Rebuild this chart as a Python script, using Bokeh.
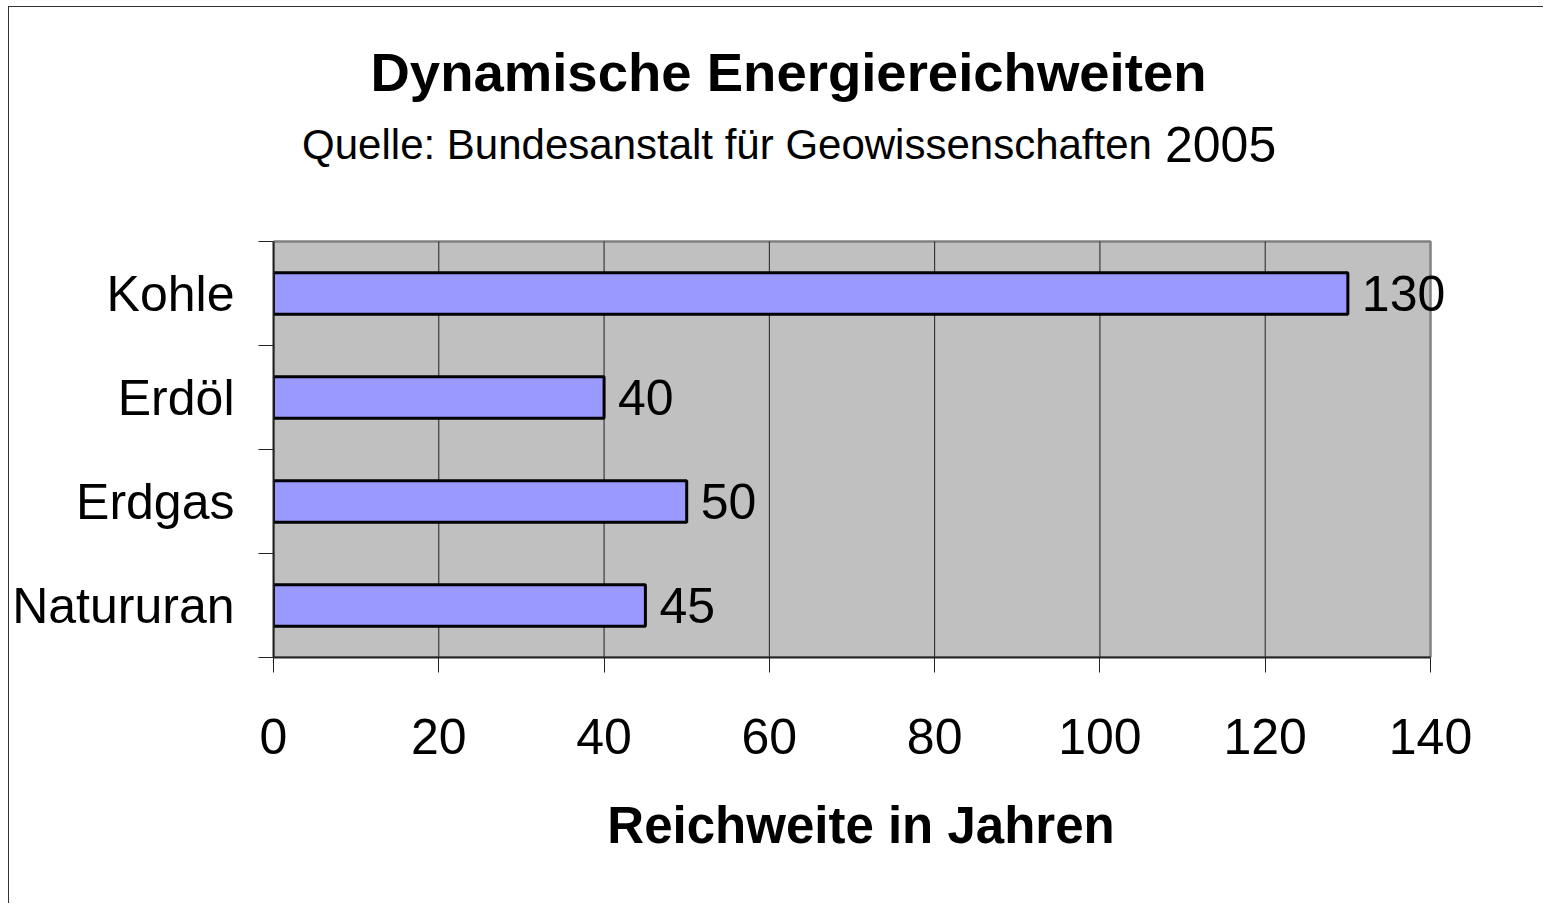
from bokeh.plotting import figure
from bokeh.models import (ColumnDataSource, Range1d, LinearAxis, FixedTicker, LabelSet, Label)
from bokeh.core.properties import value
from bokeh.embed import file_html
from bokeh.resources import INLINE

# ---- data ----
categories = ["Kohle", "Erdöl", "Erdgas", "Natururan"]
values = [130, 40, 50, 45]
x_ticks = [0, 20, 40, 60, 80, 100, 120, 140]
title_text = "Dynamische Energiereichweiten"
subtitle_text = "Quelle: Bundesanstalt für Geowissenschaften"
subtitle_year = "2005"
x_label = "Reichweite in Jahren"

FONT = "Liberation Sans"

# ---- layout (pixels) ----
PLOT_W, PLOT_H = 1157, 416          # grey plot area
FRAME_W, FRAME_H = 1175, 650        # frame extends up (titles) and a little right (value label)
LEFT, RIGHT, BOTTOM = 264, 95, 246

n = len(categories)
ypos = [n - 0.5 - i for i in range(n)]
source = ColumnDataSource(dict(y=ypos, val=values, txt=[str(v) for v in values]))

x0, x1 = x_ticks[0], x_ticks[-1]
x_end = x0 + (x1 - x0) * FRAME_W / PLOT_W
y_end = n * FRAME_H / PLOT_H
px_x = PLOT_W / (x1 - x0)
px_y = PLOT_H / n

p = figure(frame_width=FRAME_W, frame_height=FRAME_H, output_backend="svg", toolbar_location=None,
           x_range=Range1d(x0, x_end), y_range=Range1d(0, y_end),
           x_axis_location=None, y_axis_location=None,
           min_border_left=LEFT, min_border_right=RIGHT,
           min_border_top=0, min_border_bottom=BOTTOM)
p.center = []
p.background_fill_color = "white"
p.border_fill_color = "white"
p.outline_line_color = None
p.styles = {"margin-left": "8px", "margin-top": "6px",
            "border-top": "1px solid #333333", "border-left": "1px solid #333333"}

# grey plot area
p.quad(left=[x0], right=[x1], bottom=[0], top=[n],
       fill_color="#C0C0C0", line_color="#808080", line_width=2.5)

# vertical grid lines
inner = x_ticks[1:-1]
p.segment(x0=inner, x1=inner, y0=[0] * len(inner), y1=[n] * len(inner),
          line_color="#222222", line_width=1)

# x axis
xaxis = LinearAxis(ticker=FixedTicker(ticks=x_ticks, minor_ticks=[]), bounds=(x0, x1),
                   axis_label=x_label,
                   axis_line_color="#222222", axis_line_width=2,
                   major_tick_out=15, major_tick_in=0, major_tick_line_color="#222222",
                   minor_tick_out=0, minor_tick_in=0,
                   major_label_text_font=FONT, major_label_text_font_size="50px",
                   major_label_text_color="black", major_label_standoff=46,
                   axis_label_text_font=FONT, axis_label_text_font_size="51px",
                   axis_label_text_font_style="bold", axis_label_text_color="black",
                   axis_label_standoff=40)
p.add_layout(xaxis, "below")

# y axis: labels at slot centres, tick marks at slot boundaries
yaxis = LinearAxis(ticker=FixedTicker(ticks=ypos, minor_ticks=list(range(n + 1))), bounds=(0, n),
                   major_label_overrides={y: c for y, c in zip(ypos, categories)},
                   major_tick_out=0, major_tick_in=0,
                   minor_tick_out=15, minor_tick_in=0, minor_tick_line_color="#222222",
                   axis_line_color="#222222", axis_line_width=2,
                   major_label_text_font=FONT, major_label_text_font_size="50px",
                   major_label_text_color="black", major_label_standoff=24)
p.add_layout(yaxis, "left")

# bars
p.hbar(y="y", left=0, right="val", height=0.4, source=source,
       fill_color="#9999FF", line_color="black", line_width=3)

labels = LabelSet(x="val", y="y", text="txt", source=source, x_offset=14,
                  text_align="left", text_baseline="middle",
                  text_font=value(FONT), text_font_size=value("50px"), text_color="black")
p.add_layout(labels)

# titles (inside the extended frame, above the grey area)
p.add_layout(Label(x=515 / px_x, y=n + 169 / px_y, text=title_text,
                   text_align="center", text_baseline="middle",
                   text_font=FONT, text_font_size="54.5px", text_font_style="bold",
                   text_color="black"))
p.add_layout(Label(x=453.5 / px_x, y=n + 97.5 / px_y, text=subtitle_text,
                   text_align="center", text_baseline="middle",
                   text_font=FONT, text_font_size="42px", text_color="black"))
p.add_layout(Label(x=891.5 / px_x, y=n + 97.5 / px_y, text=subtitle_year,
                   text_align="left", text_baseline="middle",
                   text_font=FONT, text_font_size="50px", text_color="black"))

open("out.html", "w").write(file_html(p, INLINE))
